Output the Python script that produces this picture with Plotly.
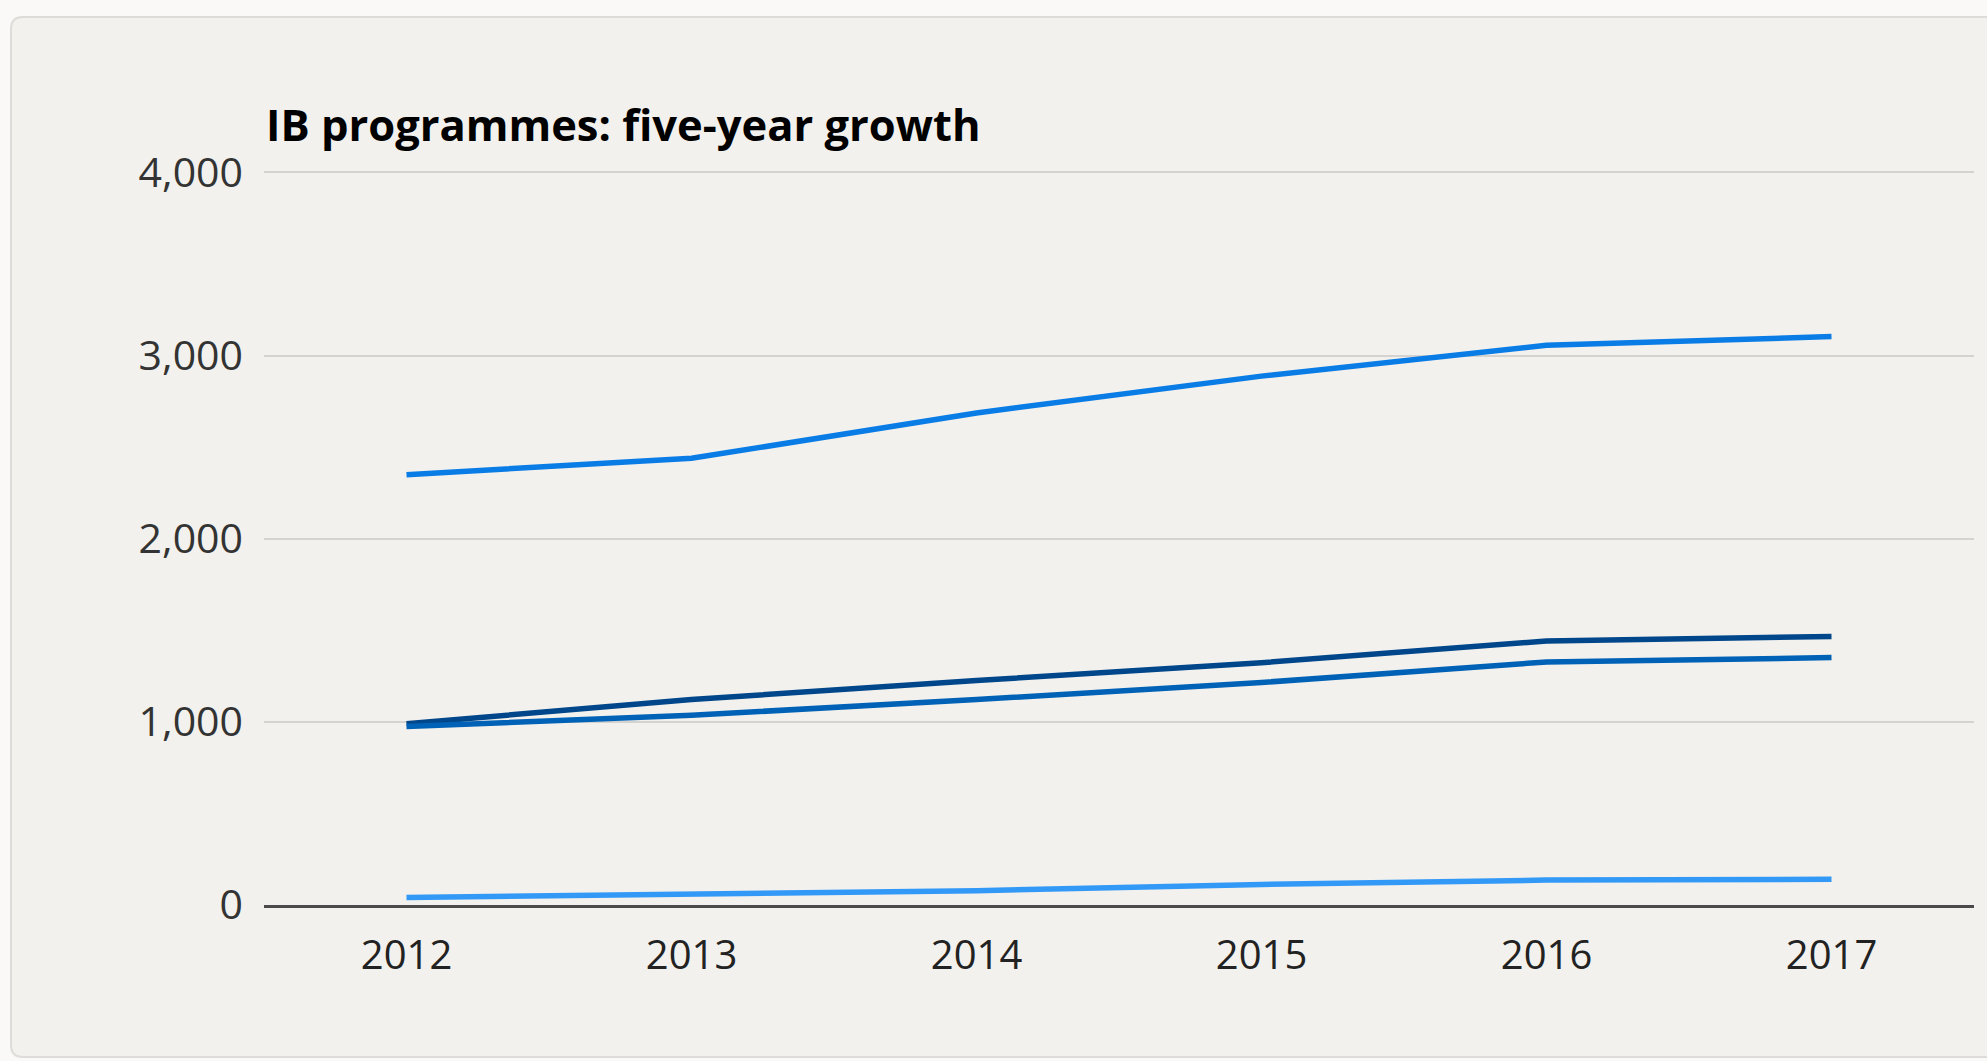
import plotly.graph_objects as go

years = ["2012", "2013", "2014", "2015", "2016", "2017"]
series_a = [2350, 2439, 2687, 2888, 3056, 3104]
series_b = [990, 1122, 1226, 1323, 1442, 1466]
series_c = [975, 1036, 1122, 1215, 1327, 1351]
series_d = [41, 58, 78, 112, 136, 140]
y_ticks = [0, 1000, 2000, 3000, 4000]
title_text = "IB programmes: five-year growth"

W, H = 1987, 1061
L, R, T, B = 264, 13, 171, 156
pw, ph = W - L - R, H - T - B

def px_x(p):
    return (p - L) / pw

def px_y(p):
    return 1 - (p - T) / ph

fig = go.Figure()
colors = ["#0a7ce6", "#00468a", "#0062b6", "#3399f7"]
for vals, col in zip([series_a, series_b, series_c, series_d], colors):
    fig.add_trace(go.Scatter(x=years, y=vals, mode="lines",
                             line=dict(color=col, width=5.5), showlegend=False,
                             hoverinfo="x+y"))

# card with rounded corners
x0, x1 = px_x(11), px_x(2000)
y0, y1 = px_y(17), px_y(1057)
rx = 12 / pw
ry = 12 / ph
path = (f"M {x0+rx},{y0} L {x1},{y0} L {x1},{y1} L {x0+rx},{y1} "
        f"Q {x0},{y1} {x0},{y1+ry} L {x0},{y0-ry} Q {x0},{y0} {x0+rx},{y0} Z")
fig.add_shape(type="path", path=path, xref="paper", yref="paper",
              fillcolor="#f2f1ee", line=dict(color="#dedcd8", width=2), layer="below")

fig.add_annotation(text=f"<b>{title_text}</b>", xref="paper", yref="paper",
                   x=0, y=px_y(124), xanchor="left", yanchor="middle",
                   showarrow=False, font=dict(size=43.5, color="#000000", family="Open Sans"))

fig.update_layout(
    width=W, height=H,
    margin=dict(l=L, r=R, t=T, b=B, pad=0),
    paper_bgcolor="#faf9f7",
    plot_bgcolor="rgba(0,0,0,0)",
    font=dict(family="Open Sans", size=38, color="#333333"),
    xaxis=dict(type="category", range=[-0.5, 5.5], showgrid=False, zeroline=False,
               showline=True, linecolor="#4a4a4a", linewidth=3,
               ticks="", ticklabelstandoff=13,
               tickfont=dict(size=40, color="#222222")),
    yaxis=dict(range=[0, 4008], tickvals=y_ticks, tickformat=",",
               showgrid=True, gridcolor="#d5d3d0", gridwidth=2,
               zeroline=False, showline=False, ticks="", ticklabelstandoff=20,
               tickfont=dict(size=41, color="#333333")),
)

fig.write_html("out.html")
